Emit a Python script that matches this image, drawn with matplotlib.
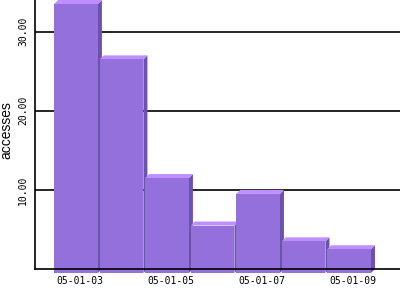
import numpy as np
import matplotlib
matplotlib.use("Agg")
import matplotlib.pyplot as plt
from matplotlib.patches import Polygon

# ---- data ----
dates = ["05-01-03", "05-01-04", "05-01-05", "05-01-06", "05-01-07", "05-01-08", "05-01-09"]
accesses = [34, 27, 12, 6, 10, 4, 3]
y_ticks = [10, 20, 30]
y_tick_labels = ["10.00", "20.00", "30.00"]
x_tick_idx = [0, 2, 4, 6]

front_color = "#9370DB"
top_color = "#BF8FFF"
side_color = "#6B53A8"

fig = plt.figure(figsize=(4, 3), dpi=100)
ax = fig.add_axes([35 / 400, 31 / 300, 365 / 400, 269 / 300])
ax.set_xlim(-0.99, 7.03)
ax.set_ylim(0, 34)

xs = np.arange(len(accesses))
vals = np.array(accesses, dtype=float)
w = 0.96
depth_px = 4.0

inv = ax.transData.inverted()
p0 = ax.transData.transform((0, 0))
ddx, ddy = inv.transform(p0 + np.array([depth_px, depth_px]))

bars = ax.bar(xs - ddx, vals, bottom=-ddy, width=w, color=front_color,
              linewidth=0, clip_on=False)
for i, (x, v) in enumerate(zip(xs, vals)):
    zb = 1 + 0.1 * i
    xl, xr = x - w / 2, x + w / 2
    side = Polygon([(xr - ddx, -ddy), (xr, 0), (xr, v), (xr - ddx, v - ddy)],
                   closed=True, facecolor=side_color, edgecolor="none",
                   clip_on=False, zorder=zb)
    top = Polygon([(xl - ddx, v - ddy), (xr - ddx, v - ddy), (xr, v), (xl, v)],
                  closed=True, facecolor=top_color, edgecolor="none",
                  clip_on=False, zorder=zb)
    ax.add_patch(side)
    ax.add_patch(top)
    bars[i].set_zorder(zb + 0.05)

ax.set_axisbelow(True)
ax.yaxis.grid(True, color="black", linewidth=1.2)
ax.set_yticks(y_ticks)
ax.set_yticklabels(y_tick_labels, rotation=90, va="center",
                   family="DejaVu Sans Mono", fontsize=7)
ax.set_xticks(xs[x_tick_idx])
ax.set_xticklabels([dates[i] for i in x_tick_idx],
                   family="DejaVu Sans Mono", fontsize=7)
ax.tick_params(axis="both", length=0)
ax.tick_params(axis="y", pad=5)
ax.tick_params(axis="x", pad=5)

for s in ["top", "right"]:
    ax.spines[s].set_visible(False)
ax.spines["left"].set_linewidth(1.2)
ax.spines["bottom"].set_linewidth(1.2)
ax.spines["bottom"].set_zorder(5)

ax.set_ylabel("accesses", family="Liberation Sans", fontsize=10)
ax.yaxis.set_label_coords(-0.058, 0.517)

fig.savefig("out.png", dpi=100)
